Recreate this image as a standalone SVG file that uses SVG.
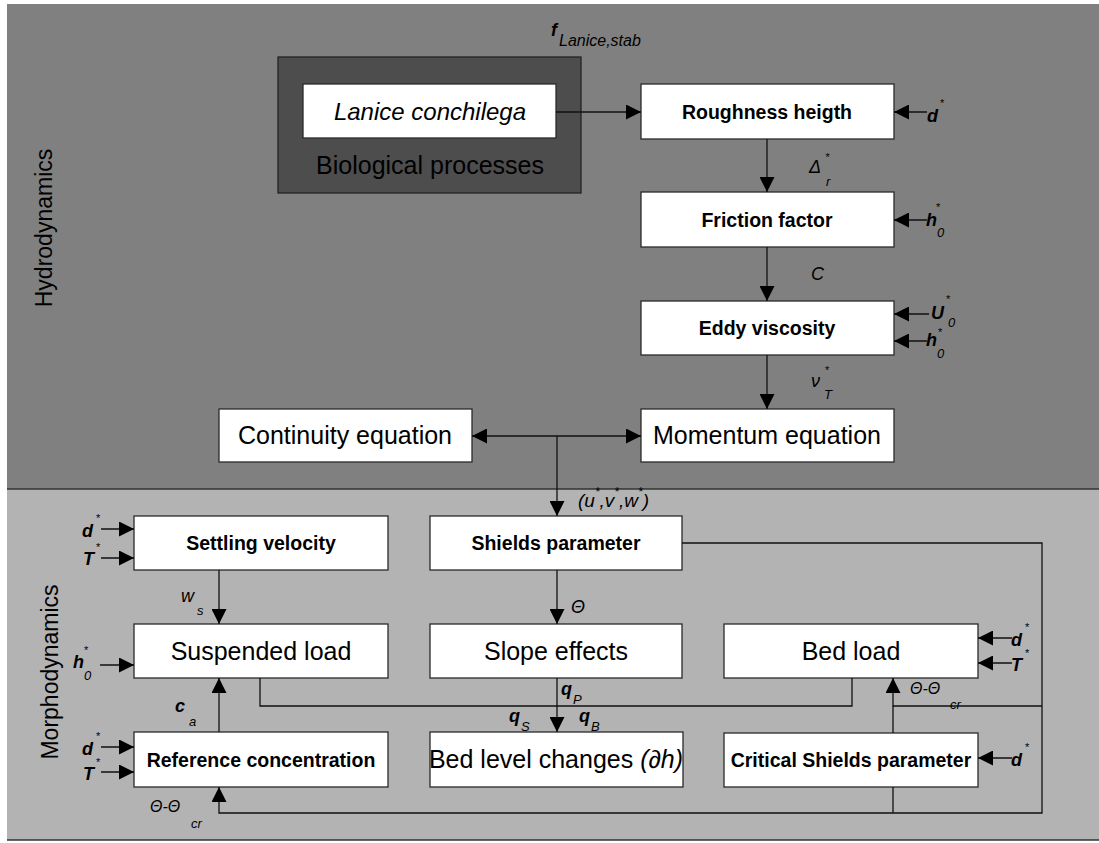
<svg xmlns="http://www.w3.org/2000/svg" width="1099" height="843" viewBox="0 0 1099 843">
<style>
text{font-family:"Liberation Sans",Arial,sans-serif;fill:#000}
.box{fill:#fff;stroke:#2a2a2a;stroke-width:1.3}
.big{font-size:25px;text-anchor:middle}
.sm{font-size:19.5px;font-weight:bold;text-anchor:middle}
.ln{fill:none;stroke:#111;stroke-width:1.3}
.sym{font-size:18px;font-style:italic;font-weight:bold}
.var{font-size:18px;font-style:italic}
.sub{font-size:13px;font-style:italic}
.st{font-size:11px}
.sec{font-size:23px;text-anchor:middle}
</style>
<defs>
<marker id="ah" viewBox="0 0 15 15" refX="15" refY="7.5" markerWidth="15" markerHeight="15" markerUnits="userSpaceOnUse" orient="auto">
<path d="M0,0 L15,7.5 L0,15 z" fill="#000"/>
</marker>
</defs>
<rect x="0" y="0" width="1099" height="843" fill="#fff"/>
<g id="hydro-section">
<rect x="7" y="4" width="1092" height="485" fill="#808080"/>
<text class="sec" transform="translate(52,228) rotate(-90)">Hydrodynamics</text>
</g>
<g id="morpho-section">
<rect x="7" y="489" width="1092" height="351" fill="#b3b3b3"/>
<line x1="7" y1="489" x2="1099" y2="489" stroke="#333" stroke-width="1.3"/>
<line x1="7" y1="840" x2="1099" y2="840" stroke="#333" stroke-width="1.3"/>
<text class="sec" transform="translate(58,672) rotate(-90)">Morphodynamics</text>
</g>
<g id="biological-processes">
<rect x="278" y="57" width="303" height="136" fill="#4d4d4d" stroke="#222" stroke-width="1.3"/>
<text x="430" y="174" font-size="25" text-anchor="middle" fill="#111">Biological processes</text>
</g>
<g id="lanice">
<rect class="box" x="303" y="84" width="253" height="54"/>
<text x="430" y="120" font-size="24" font-style="italic" text-anchor="middle">Lanice conchilega</text>
</g>
<g id="roughness">
<rect class="box" x="641" y="84" width="253" height="55"/>
<text class="sm" x="767" y="119">Roughness heigth</text>
</g>
<g id="friction">
<rect class="box" x="641" y="192" width="253" height="55"/>
<text class="sm" x="767" y="227">Friction factor</text>
</g>
<g id="eddy">
<rect class="box" x="641" y="301" width="253" height="54"/>
<text class="sm" x="767" y="335">Eddy viscosity</text>
</g>
<g id="momentum">
<rect class="box" x="641" y="409" width="253" height="53"/>
<text class="big" x="767" y="444">Momentum equation</text>
</g>
<g id="continuity">
<rect class="box" x="219" y="409" width="253" height="53"/>
<text class="big" x="345" y="444">Continuity equation</text>
</g>
<g id="settling">
<rect class="box" x="134" y="516" width="254" height="54"/>
<text class="sm" x="261" y="550">Settling velocity</text>
</g>
<g id="shields">
<rect class="box" x="430" y="516" width="252" height="54"/>
<text class="sm" x="556" y="550">Shields parameter</text>
</g>
<g id="suspended">
<rect class="box" x="134" y="624" width="254" height="54"/>
<text class="big" x="261" y="660">Suspended load</text>
</g>
<g id="slope">
<rect class="box" x="430" y="624" width="252" height="54"/>
<text class="big" x="556" y="660">Slope effects</text>
</g>
<g id="bedload">
<rect class="box" x="724" y="624" width="254" height="54"/>
<text class="big" x="851" y="660">Bed load</text>
</g>
<g id="reference">
<rect class="box" x="134" y="732" width="254" height="55"/>
<text class="sm" x="261" y="767">Reference concentration</text>
</g>
<g id="bedlevel">
<rect class="box" x="430" y="732" width="253" height="55"/>
<text class="big" x="556" y="768">Bed level changes <tspan font-style="italic">(∂h)</tspan></text>
</g>
<g id="critical">
<rect class="box" x="724" y="733" width="254" height="54"/>
<text class="sm" x="851" y="767">Critical Shields parameter</text>
</g>
<g id="connectors">
<path class="ln" d="M556,112 H641" marker-end="url(#ah)"/>
<path class="ln" d="M767,139 V192" marker-end="url(#ah)"/>
<path class="ln" d="M767,247 V301" marker-end="url(#ah)"/>
<path class="ln" d="M767,355 V409" marker-end="url(#ah)"/>
<path class="ln" d="M557,436 H472" marker-end="url(#ah)"/>
<path class="ln" d="M557,436 H641" marker-end="url(#ah)"/>
<path class="ln" d="M557,436 V516" marker-end="url(#ah)"/>
<path class="ln" d="M557,570 V624" marker-end="url(#ah)"/>
<path class="ln" d="M557,678 V732" marker-end="url(#ah)"/>
<path class="ln" d="M260,678 V706 H557"/>
<path class="ln" d="M852,678 V706 H557"/>
<path class="ln" d="M219,570 V624" marker-end="url(#ah)"/>
<path class="ln" d="M219,732 V678" marker-end="url(#ah)"/>
<path class="ln" d="M682,543 H1042 V813 H219 V787" marker-end="url(#ah)"/>
<path class="ln" d="M1042,706 H893 V678" marker-end="url(#ah)"/>
<path class="ln" d="M893,733 V706"/>
<path class="ln" d="M893,787 V813"/>
<path class="ln" d="M927,112 H894" marker-end="url(#ah)"/>
<path class="ln" d="M927,220 H894" marker-end="url(#ah)"/>
<path class="ln" d="M929,314 H894" marker-end="url(#ah)"/>
<path class="ln" d="M927,341 H894" marker-end="url(#ah)"/>
<path class="ln" d="M101,529 H134" marker-end="url(#ah)"/>
<path class="ln" d="M101,558 H134" marker-end="url(#ah)"/>
<path class="ln" d="M100,665 H134" marker-end="url(#ah)"/>
<path class="ln" d="M101,747 H134" marker-end="url(#ah)"/>
<path class="ln" d="M101,772 H134" marker-end="url(#ah)"/>
<path class="ln" d="M1012,638 H978" marker-end="url(#ah)"/>
<path class="ln" d="M1012,663 H978" marker-end="url(#ah)"/>
<path class="ln" d="M1012,758 H978" marker-end="url(#ah)"/>
</g>
<g id="labels">
<text class="sym" x="551" y="36" font-size="20">f</text><text x="559" y="46" font-size="16" font-style="italic">Lanice,stab</text>
<text class="var" x="809" y="173">Δ</text><text class="st" x="825" y="161" font-style="italic">*</text><text class="sub" x="826" y="186">r</text>
<text class="var" x="811" y="280">C</text>
<text class="var" x="811" y="387">ν</text><text class="st" x="825" y="374">*</text><text class="sub" x="824" y="399">T</text>
<text x="578" y="507" font-size="19" font-style="italic">(u<tspan font-size="12" dy="-11">*</tspan><tspan dy="11">,v</tspan><tspan font-size="12" dy="-11">*</tspan><tspan dy="11">,w</tspan><tspan font-size="12" dy="-11">*</tspan><tspan dy="11">)</tspan></text>
<text class="sym" x="927" y="122">d</text><text class="st" x="940" y="107">*</text>
<text class="sym" x="926" y="226">h</text><text class="st" x="936" y="211">*</text><text class="sub" x="937" y="237">0</text>
<text class="sym" x="931" y="319">U</text><text class="st" x="946" y="303">*</text><text class="sub" x="948" y="327">0</text>
<text class="sym" x="926" y="346">h</text><text class="st" x="938" y="336">*</text><text class="sub" x="937" y="358">0</text>
<text class="sym" x="82" y="537">d</text><text class="st" x="96" y="522">*</text>
<text class="sym" x="83" y="565">T</text><text class="st" x="96" y="551">*</text>
<text class="sym" x="73" y="668">h</text><text class="st" x="84" y="654">*</text><text class="sub" x="84" y="680">0</text>
<text class="sym" x="82" y="755">d</text><text class="st" x="96" y="740">*</text>
<text class="sym" x="83" y="780">T</text><text class="st" x="96" y="766">*</text>
<text class="sym" x="1011" y="646">d</text><text class="st" x="1025" y="631">*</text>
<text class="sym" x="1011" y="671">T</text><text class="st" x="1025" y="657">*</text>
<text class="sym" x="1011" y="766">d</text><text class="st" x="1025" y="751">*</text>
<text class="var" x="181" y="602">w</text><text class="sub" x="197" y="615">s</text>
<text class="sym" x="175" y="712">c</text><text class="sub" x="189" y="726">a</text>
<text class="var" x="571" y="613" font-size="16">Θ</text>
<text class="sym" x="561" y="695">q</text><text class="sub" x="573" y="704">P</text>
<text class="sym" x="509" y="722">q</text><text class="sub" x="521" y="731">S</text>
<text class="sym" x="579" y="722">q</text><text class="sub" x="591" y="731">B</text>
<text x="150" y="812" font-size="16" font-style="italic">Θ-Θ</text><text class="sub" x="191" y="828">cr</text>
<text x="910" y="694" font-size="16" font-style="italic">Θ-Θ</text><text class="sub" x="950" y="709">cr</text>
</g>
</svg>
